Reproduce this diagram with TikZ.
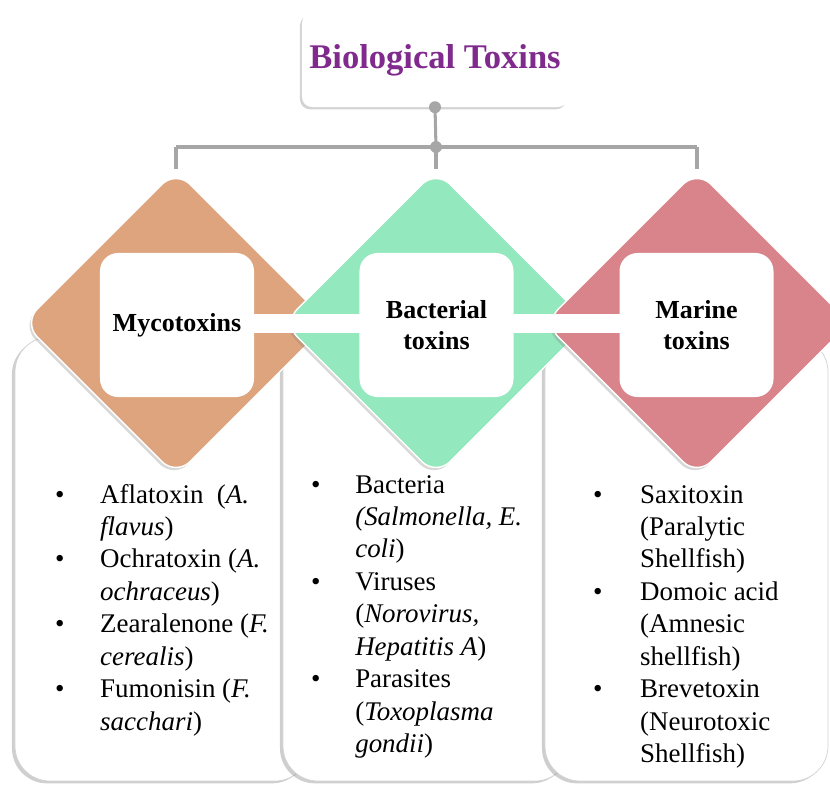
\documentclass[tikz,border=0pt]{standalone}
\usepackage{fontspec}
\setmainfont{Liberation Serif}
\usetikzlibrary{shapes.geometric,shadows}
\definecolor{mycoc}{HTML}{DDA47E}
\definecolor{bactc}{HTML}{93E8BD}
\definecolor{maric}{HTML}{D9838A}
\definecolor{purpc}{HTML}{7F2A8C}
\definecolor{connc}{HTML}{A6A6A6}
\newcommand\blt[1]{\makebox[#1][l]{\textbullet}}
\tikzset{
  conline/.style={draw=connc, line width=2.6pt},
  hubdot/.style={fill=connc},
  rootbox/.style={rectangle, fill=white, rounded corners=0.3cm, minimum width=7.98cm, minimum height=2.82cm, inner sep=0pt,
    drop shadow={shadow xshift=-0.06cm, shadow yshift=-0.07cm, opacity=0.35},
    font=\fontsize{29.5}{34}\selectfont\bfseries, text=purpc},
  panel/.style={rectangle, fill=white, draw=gray!35, line width=0.6pt, rounded corners=1.05cm, minimum height=13.32cm, inner sep=0pt,
    drop shadow={shadow xshift=-0.09cm, shadow yshift=-0.07cm, opacity=0.38}},
  dia/.style={shape=diamond, minimum width=9.18cm, minimum height=9.18cm, inner sep=0pt, rounded corners=0.6cm,
    draw=white, line width=1.2pt, drop shadow={shadow xshift=-0.06cm, shadow yshift=-0.08cm, opacity=0.3}},
  inbox/.style={rectangle, fill=white, rounded corners=0.54cm, minimum width=4.62cm, minimum height=4.32cm, inner sep=0pt,
    align=center, font=\fontsize{22.2}{26.5}\selectfont\bfseries},
  band/.style={draw=white, line width=0.57cm},
  listtext/.style={inner sep=0pt, font=\fontsize{23}{27.7}\selectfont}
}
\begin{document}
\begin{tikzpicture}[x=0.03cm, y=-0.03cm]
\useasboundingbox (0,0) rectangle (830,787);
% root
\node[rootbox] (root) at (435,60) {Biological Toxins};
% panels
\node[panel, minimum width=8.85cm] (p1) at (162.5,559) {};
\node[panel, minimum width=8.61cm] (p2) at (426.5,559) {};
\node[panel, minimum width=8.49cm] (p3) at (686.5,559) {};
% diamonds
\node[dia, fill=mycoc] (d1) at (176,323) {};
\node[dia, fill=bactc] (d2) at (436,323) {};
\node[dia, fill=maric] (d3) at (697,323) {};
% inner boxes
\node[inbox] (b1) at (177,325) {Mycotoxins};
\node[inbox] (b2) at (436.5,325) {Bacterial\\toxins};
\node[inbox] (b3) at (696.5,325) {Marine\\toxins};
\draw[band] ([xshift=-1pt,yshift=1pt]b1.east) -- ([xshift=1pt,yshift=1pt]b2.west);
\draw[band] ([xshift=-1pt,yshift=1pt]b2.east) -- ([xshift=1pt,yshift=1pt]b3.west);
% connectors
\coordinate (hub) at (436,147);
\coordinate (h1) at (176,147);
\coordinate (h3) at (697,147);
\draw[conline] (root.south) -- (hub);
\draw[conline] (h1) -- (h3);
\draw[conline] (h1) -- (d1.north);
\draw[conline] (hub) -- (d2.north);
\draw[conline] (h3) -- (d3.north);
\fill[hubdot] (root.south) circle (6);
\fill[hubdot] (hub) circle (6);
% lists
\node[listtext, anchor=base west] (l1) at (55,503) {\begin{tabular}[t]{@{}l@{}l@{}}
\blt{38.4pt} & Aflatoxin\ \ (\textit{A.}\\
 & \textit{flavus})\\
\blt{38.4pt} & Ochratoxin (\textit{A.}\\
 & \textit{ochraceus})\\
\blt{38.4pt} & Zearalenone (\textit{F.}\\
 & \textit{cerealis})\\
\blt{38.4pt} & Fumonisin (\textit{F.}\\
 & \textit{sacchari})
\end{tabular}};
\node[listtext, anchor=base west] (l2) at (311,493) {\begin{tabular}[t]{@{}l@{}l@{}}
\blt{37.6pt} & Bacteria\\
 & \textit{(Salmonella, E.}\\
 & \textit{coli})\\
\blt{37.6pt} & Viruses\\
 & (\textit{Norovirus,}\\
 & \textit{Hepatitis A})\\
\blt{37.6pt} & Parasites\\
 & (\textit{Toxoplasma}\\
 & \textit{gondii})
\end{tabular}};
\node[listtext, anchor=base west] (l3) at (593,503) {\begin{tabular}[t]{@{}l@{}l@{}}
\blt{40.1pt} & Saxitoxin\\
 & (Paralytic\\
 & Shellfish)\\
\blt{40.1pt} & Domoic acid\\
 & (Amnesic\\
 & shellfish)\\
\blt{40.1pt} & Brevetoxin\\
 & (Neurotoxic\\
 & Shellfish)
\end{tabular}};
\end{tikzpicture}
\end{document}
